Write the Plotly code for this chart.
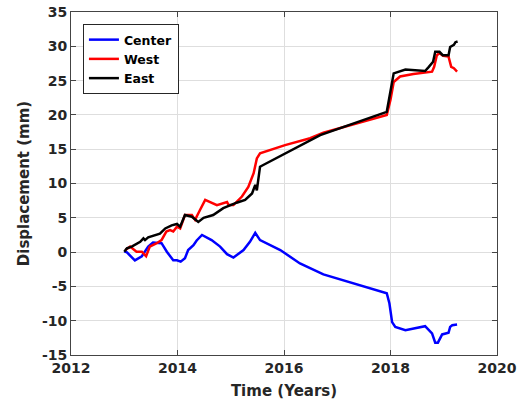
import plotly.graph_objects as go

center_t = [2013.0, 2013.05, 2013.2, 2013.33, 2013.45, 2013.54, 2013.7, 2013.8, 2013.92, 2013.99,
            2014.06, 2014.14, 2014.2, 2014.3, 2014.36, 2014.46, 2014.64, 2014.8, 2014.93, 2015.05,
            2015.24, 2015.36, 2015.46, 2015.55, 2015.93, 2016.3, 2016.74, 2017.93, 2017.98, 2018.03,
            2018.09, 2018.28, 2018.65, 2018.78, 2018.84, 2018.89, 2018.97, 2019.09, 2019.12, 2019.16, 2019.25]
center_v = [0.1, -0.05, -1.2, -0.6, 0.8, 1.4, 1.3, 0.05, -1.2, -1.2,
            -1.4, -0.9, 0.3, 1.0, 1.7, 2.5, 1.75, 0.8, -0.3, -0.8,
            0.3, 1.5, 2.8, 1.75, 0.3, -1.65, -3.25, -6.0, -7.5, -10.2,
            -10.9, -11.4, -10.8, -11.85, -13.2, -13.2, -12.0, -11.75, -10.9, -10.65, -10.55]

west_t = [2013.02, 2013.11, 2013.23, 2013.33, 2013.41, 2013.48, 2013.61, 2013.7, 2013.79, 2013.86,
          2013.92, 2013.99, 2014.05, 2014.14, 2014.27, 2014.33, 2014.42, 2014.52, 2014.74, 2014.93,
          2014.96, 2015.05, 2015.21, 2015.33, 2015.43, 2015.49, 2015.55, 2016.02, 2016.49, 2016.74,
          2017.93, 2018.0, 2018.06, 2018.18, 2018.43, 2018.78, 2018.82, 2018.87, 2018.92, 2018.99,
          2019.09, 2019.14, 2019.19, 2019.25]
west_v = [0.3, 0.8, 0.05, 0.05, -0.6, 0.8, 1.3, 1.75, 3.0, 3.2,
          3.0, 3.7, 3.45, 5.4, 5.4, 4.7, 6.1, 7.6, 6.85, 7.3,
          6.85, 6.85, 8.1, 9.5, 11.5, 13.65, 14.4, 15.6, 16.6, 17.4,
          20.0, 22.2, 24.8, 25.6, 25.95, 26.3, 27.0, 28.7, 29.0, 28.6,
          28.5, 27.0, 26.8, 26.3]

east_t = [2013.0, 2013.05, 2013.14, 2013.3, 2013.36, 2013.39, 2013.45, 2013.61, 2013.67, 2013.77,
          2013.89, 2013.99, 2014.05, 2014.14, 2014.27, 2014.39, 2014.49, 2014.67, 2014.86, 2015.11,
          2015.27, 2015.4, 2015.46, 2015.49, 2015.55, 2015.61, 2016.02, 2016.68, 2017.93, 2018.01,
          2018.06, 2018.28, 2018.65, 2018.72, 2018.8, 2018.84, 2018.92, 2018.98, 2019.09, 2019.12,
          2019.19, 2019.22, 2019.26]
east_v = [0.05, 0.55, 0.8, 1.5, 2.0, 1.75, 2.15, 2.6, 2.7, 3.45,
          3.9, 4.1, 3.7, 5.4, 5.15, 4.4, 5.0, 5.4, 6.4, 7.2,
          7.6, 8.55, 9.8, 9.0, 12.45, 12.7, 14.4, 17.05, 20.45, 24.1,
          26.05, 26.6, 26.4, 27.0, 27.75, 29.2, 29.2, 28.7, 28.7, 29.9,
          30.2, 30.6, 30.7]

x_ticks = [2012, 2014, 2016, 2018, 2020]
y_ticks = [-15, -10, -5, 0, 5, 10, 15, 20, 25, 30, 35]

fig = go.Figure()
for name, t, v, c in [("Center", center_t, center_v, "#0000ff"),
                      ("West", west_t, west_v, "#ff0000"),
                      ("East", east_t, east_v, "#000000")]:
    fig.add_trace(go.Scatter(x=t, y=v, mode="lines", name=name,
                             line=dict(color=c, width=2.5)))

axis_common = dict(showgrid=True, gridcolor="#dedede", gridwidth=1,
                   showline=True, linecolor="#444444", linewidth=1, mirror="ticks",
                   ticks="inside", ticklen=5, tickcolor="#444444", zeroline=False,
                   tickfont=dict(family="DejaVu Sans", size=14, color="#262626", weight="bold"))

fig.update_xaxes(range=[2012, 2020], tickvals=x_ticks, ticktext=[str(v) for v in x_ticks],
                 title=dict(text="<b>Time (Years)</b>", standoff=10,
                            font=dict(family="DejaVu Sans", size=15, color="#262626")),
                 **axis_common)
fig.update_yaxes(range=[-15, 35], tickvals=y_ticks, ticktext=[str(v) for v in y_ticks],
                 title=dict(text="<b>Displacement (mm)</b>", standoff=8,
                            font=dict(family="DejaVu Sans", size=15, color="#262626")),
                 **axis_common)

fig.update_layout(
    width=529, height=403,
    margin=dict(l=71, r=32, t=12, b=48, autoexpand=False),
    plot_bgcolor="white", paper_bgcolor="white",
    legend=dict(x=0.028, y=0.965, xanchor="left", yanchor="top",
                bgcolor="white", bordercolor="#262626", borderwidth=1,
                font=dict(family="DejaVu Sans", size=12.5, color="#000000", weight="bold"),
                itemwidth=30, tracegroupgap=0),
    showlegend=True,
)

fig.write_html("out.html", config={"displayModeBar": False},
               post_script="document.body.style.margin='0';document.body.style.padding='0';")
